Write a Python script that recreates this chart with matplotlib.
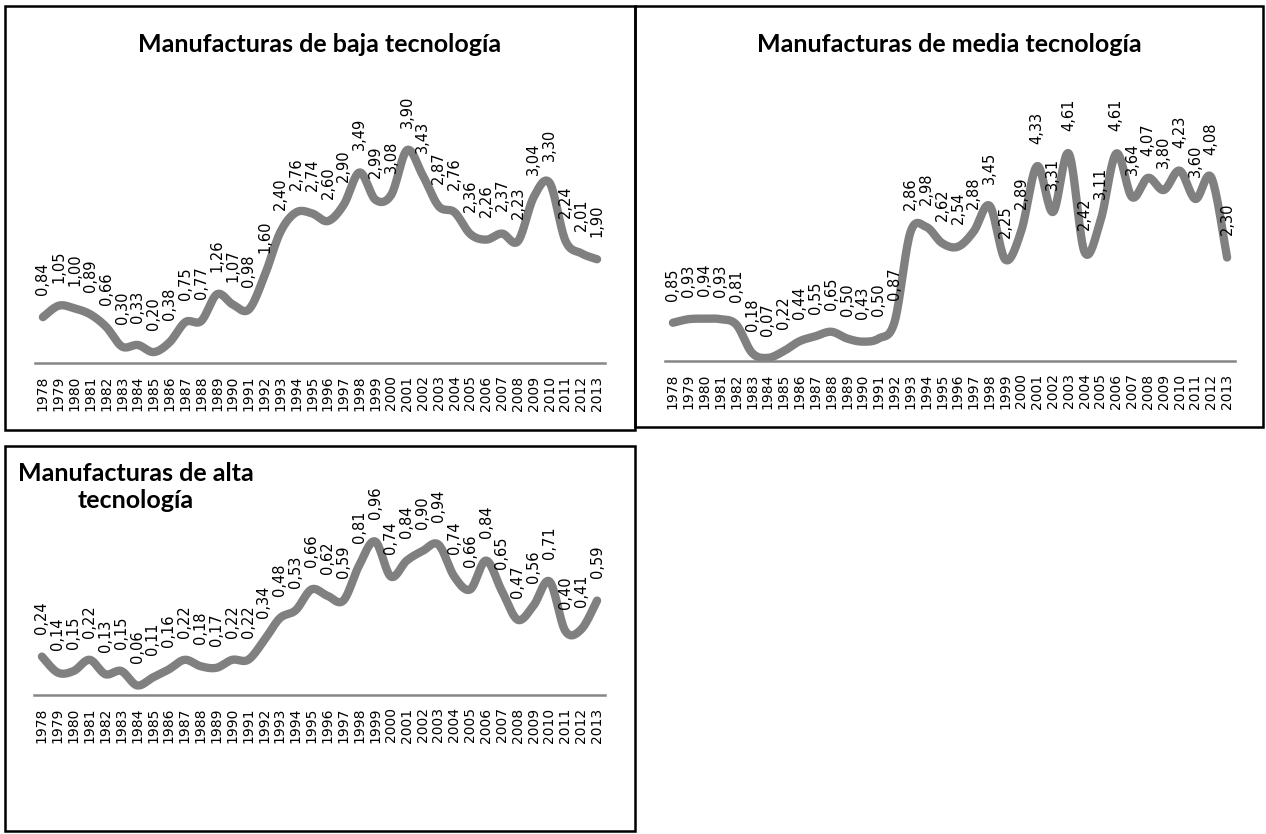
import numpy as np
import matplotlib
matplotlib.use("Agg")
import matplotlib.pyplot as plt
from matplotlib.patches import Rectangle

years = [str(y) for y in range(1978, 2014)]

baja = [0.84, 1.05, 1.00, 0.89, 0.66, 0.30, 0.33, 0.20, 0.38, 0.75, 0.77, 1.26,
        1.07, 0.98, 1.60, 2.40, 2.76, 2.74, 2.60, 2.90, 3.49, 2.99, 3.08, 3.90,
        3.43, 2.87, 2.76, 2.36, 2.26, 2.37, 2.23, 3.04, 3.30, 2.24, 2.01, 1.90]

media = [0.85, 0.93, 0.94, 0.93, 0.81, 0.18, 0.07, 0.22, 0.44, 0.55, 0.65, 0.50,
         0.43, 0.50, 0.87, 2.86, 2.98, 2.62, 2.54, 2.88, 3.45, 2.25, 2.89, 4.33,
         3.31, 4.61, 2.42, 3.11, 4.61, 3.64, 4.07, 3.80, 4.23, 3.60, 4.08, 2.30]

alta = [0.24, 0.14, 0.15, 0.22, 0.13, 0.15, 0.06, 0.11, 0.16, 0.22, 0.18, 0.17,
        0.22, 0.22, 0.34, 0.48, 0.53, 0.66, 0.62, 0.59, 0.81, 0.96, 0.74, 0.84,
        0.90, 0.94, 0.74, 0.66, 0.84, 0.65, 0.47, 0.56, 0.71, 0.40, 0.41, 0.59]

titles = ["Manufacturas de baja tecnología",
          "Manufacturas de media tecnología",
          "Manufacturas de alta\ntecnología"]

W, H = 1266, 834
GREY = "#808080"


def px_rect(x0, y0, x1, y1):
    return [x0 / W, 1 - y1 / H, (x1 - x0) / W, (y1 - y0) / H]


def smooth(x, y, n=20):
    # bezier smoothing, like a spreadsheet "smoothed line"
    x = np.asarray(x, float)
    y = np.asarray(y, float)
    px = np.concatenate([[x[0]], x, [x[-1]]])
    py = np.concatenate([[y[0]], y, [y[-1]]])
    t = np.linspace(0, 1, n)[:, None]
    xs, ys = [], []
    for i in range(len(x) - 1):
        p0 = np.array([px[i + 1], py[i + 1]])
        p3 = np.array([px[i + 2], py[i + 2]])
        c1 = p0 + (p3 - np.array([px[i], py[i]])) / 6
        c2 = p3 - (np.array([px[i + 3], py[i + 3]]) - p0) / 6
        pts = ((1 - t) ** 3) * p0 + 3 * ((1 - t) ** 2) * t * c1 \
            + 3 * (1 - t) * t ** 2 * c2 + t ** 3 * p3
        xs.append(pts[:, 0])
        ys.append(pts[:, 1])
    return np.concatenate(xs), np.concatenate(ys)


def draw_panel(fig, rect, values, ymax):
    ax = fig.add_axes(rect)
    x = np.arange(len(values))
    sx, sy = smooth(x, values)
    ax.plot(sx, sy, color=GREY, lw=6, solid_capstyle="round", clip_on=False)
    for xi, v in zip(x, values):
        ax.annotate(f"{v:.2f}".replace(".", ","), (xi, v), xytext=(0, 16),
                    textcoords="offset points", rotation=90, ha="center",
                    va="bottom", fontsize=10.5, annotation_clip=False)
    ax.set_xlim(-0.5, len(values) - 0.5)
    ax.set_ylim(0, ymax)
    ax.set_xticks(x)
    ax.set_xticklabels(years, rotation=90, fontsize=10)
    ax.tick_params(axis="x", length=0, pad=9)
    ax.set_yticks([])
    for s in ["top", "left", "right"]:
        ax.spines[s].set_visible(False)
    ax.spines["bottom"].set_color("#868686")
    ax.spines["bottom"].set_linewidth(1.8)
    return ax


fig = plt.figure(figsize=(W / 100, H / 100), dpi=100)

# panel borders
for x0, y0, x1, y1 in [(5, 6, 635, 430), (635, 6, 1263, 427), (5, 446, 635, 831)]:
    fig.add_artist(Rectangle((x0 / W, 1 - y1 / H), (x1 - x0) / W, (y1 - y0) / H,
                             transform=fig.transFigure, fill=False,
                             edgecolor="black", lw=1.8))

draw_panel(fig, px_rect(35, 90, 605, 363), baja, 5)
draw_panel(fig, px_rect(665, 91, 1235, 361), media, 6)
draw_panel(fig, px_rect(34, 503, 605, 695), alta, 1.2)

fig.text(320 / W, 1 - 45 / H, titles[0], ha="center", va="center",
         fontsize=18, fontweight="bold", family="Lato")
fig.text(949 / W, 1 - 45 / H, titles[1], ha="center", va="center",
         fontsize=18, fontweight="bold", family="Lato")
fig.text(136 / W, 1 - 487 / H, titles[2], ha="center", va="center",
         fontsize=18, fontweight="bold", family="Lato", multialignment="center",
         linespacing=1.2)

fig.savefig("out.png", dpi=100)
